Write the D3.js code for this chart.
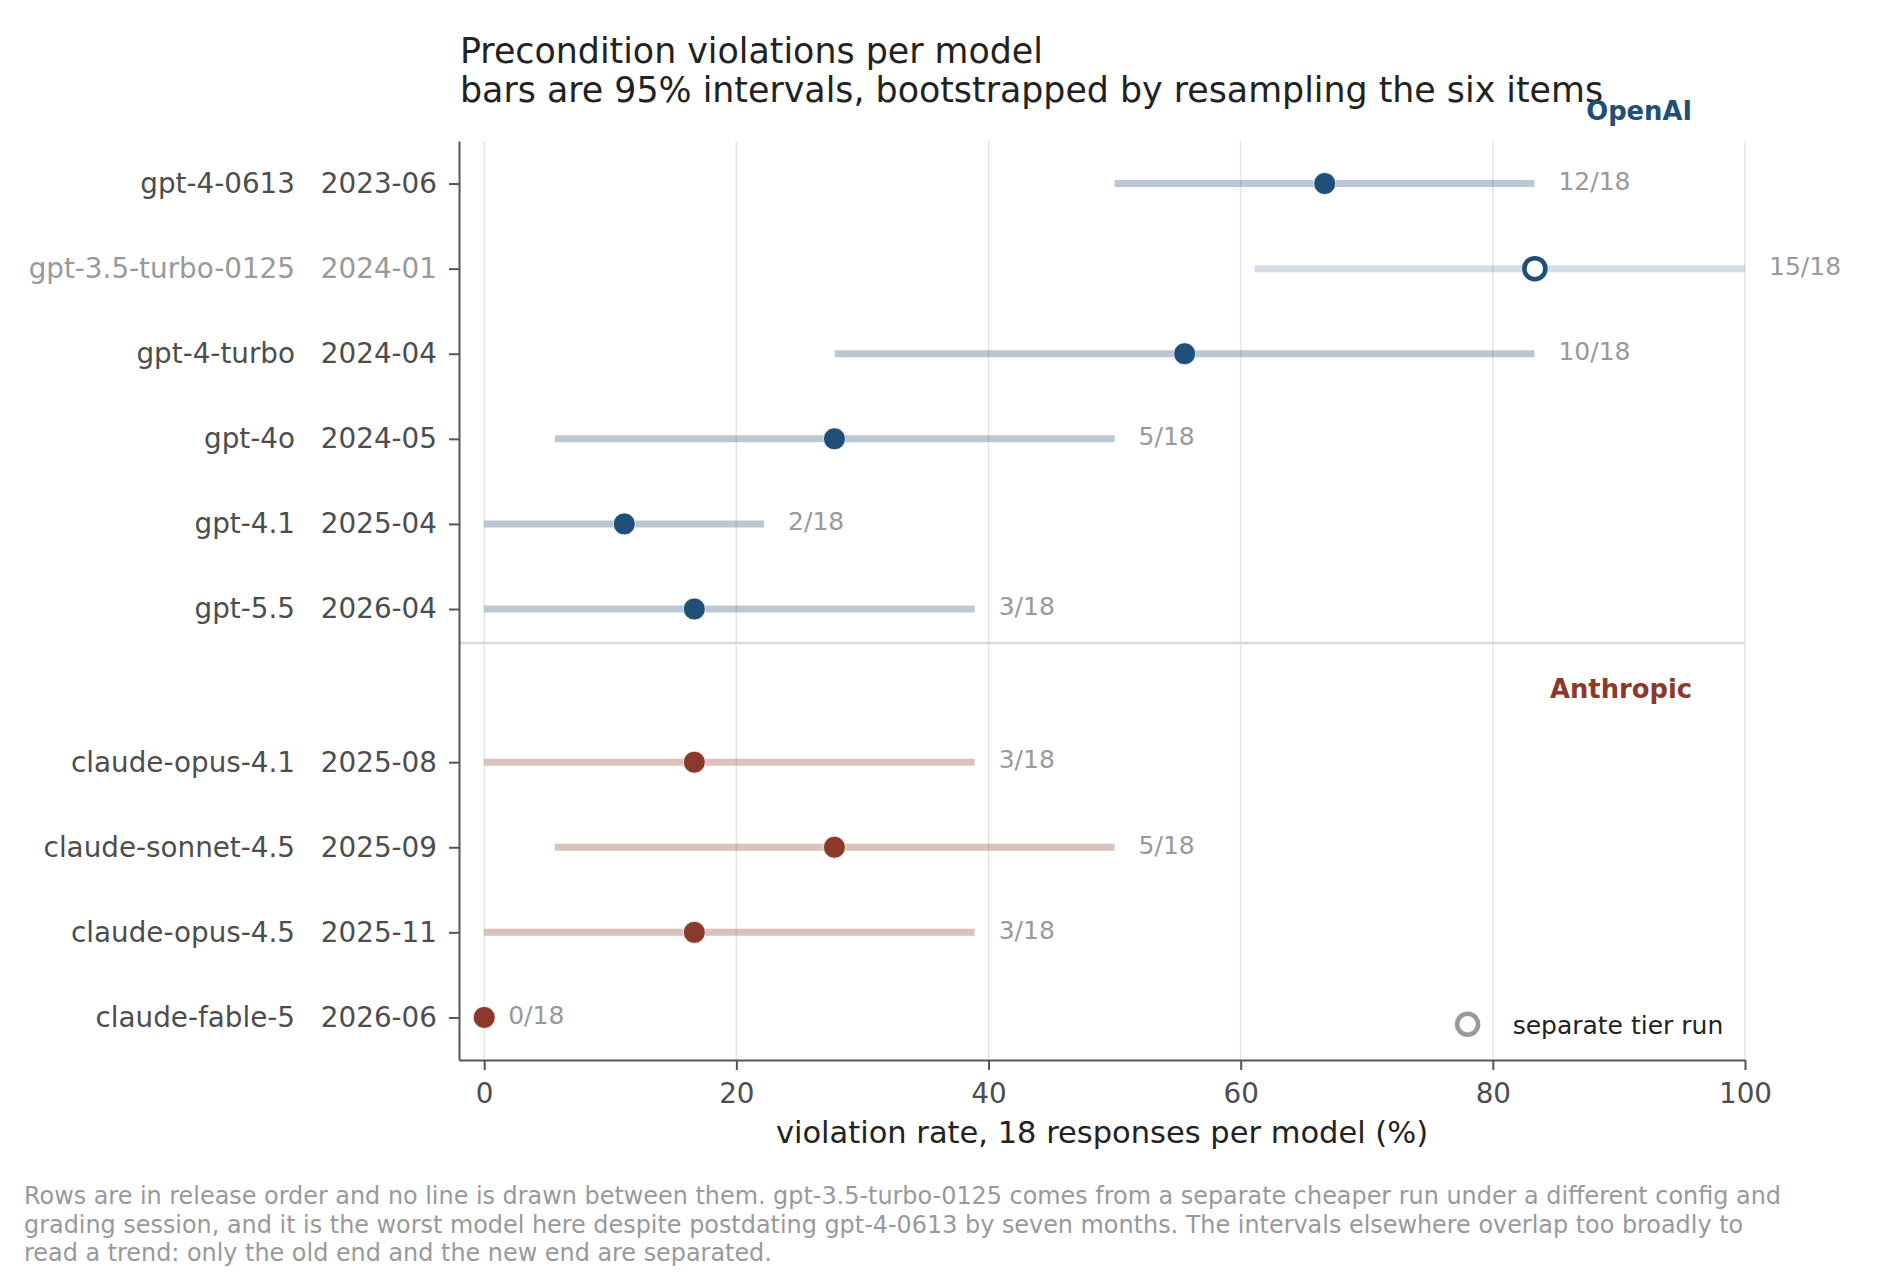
<!DOCTYPE html>
<html>
<head>
<meta charset="utf-8">
<script src="https://cdn.jsdelivr.net/npm/d3@7"></script>
<style>
    body { margin: 0; background: #fff; }
    svg text { font-family: "DejaVu Sans", sans-serif; }
</style>
</head>
<body>
<svg id="drawing_region"></svg>
<script>
// rows, top to bottom in release order within each lab
const models = ["gpt-4-0613", "gpt-3.5-turbo-0125", "gpt-4-turbo", "gpt-4o", "gpt-4.1", "gpt-5.5",
                "claude-opus-4.1", "claude-sonnet-4.5", "claude-opus-4.5", "claude-fable-5"];
const releases = ["2023-06", "2024-01", "2024-04", "2024-05", "2025-04", "2026-04",
                  "2025-08", "2025-09", "2025-11", "2026-06"];
const labs = ["OpenAI", "OpenAI", "OpenAI", "OpenAI", "OpenAI", "OpenAI",
              "Anthropic", "Anthropic", "Anthropic", "Anthropic"];
const violations = [12, 15, 10, 5, 2, 3, 3, 5, 3, 0];
const responses = 18;
const ciLow  = [50.0, 61.1, 27.8, 5.6, 0.0, 0.0, 0.0, 5.6, 0.0, 0.0];
const ciHigh = [83.3, 100.0, 83.3, 50.0, 22.2, 38.9, 38.9, 50.0, 38.9, 0.0];
const separateRun = [false, true, false, false, false, false, false, false, false, false];
const rowPos = [0, 1, 2, 3, 4, 5, 6.8, 7.8, 8.8, 9.8];
const xTicks = [0, 20, 40, 60, 80, 100];

const labColor = { "OpenAI": "#1f4e79", "Anthropic": "#8b392a" };
const labFirstRow = { "OpenAI": 0, "Anthropic": 6.8 };
const separatorPos = 5.4;

const titleLines = ["Precondition violations per model",
                    "bars are 95% intervals, bootstrapped by resampling the six items"];
const xLabel = "violation rate, 18 responses per model (%)";
const noteLines = [
    "Rows are in release order and no line is drawn between them. gpt-3.5-turbo-0125 comes from a separate cheaper run under a different config and",
    "grading session, and it is the worst model here despite postdating gpt-4-0613 by seven months. The intervals elsewhere overlap too broadly to",
    "read a trend: only the old end and the new end are separated."
];

const data = models.map((m, i) => ({
    model: m,
    release: releases[i],
    lab: labs[i],
    rate: violations[i] / responses * 100,
    count: violations[i],
    lo: ciLow[i],
    hi: ciHigh[i],
    separate: separateRun[i],
    pos: rowPos[i]
}));

class IntervalChart {

    constructor( config, data ) {
        this.config = config;
        this.data = data;
        this.init();
    }

    init() {
        let self = this;

        self.svg = d3.select( self.config.parent )
            .attr('width', self.config.width)
            .attr('height', self.config.height);

        self.left = self.config.margin.left;
        self.right = self.config.width - self.config.margin.right;
        self.top = self.config.margin.top;
        self.bottom = self.config.height - self.config.margin.bottom;

        self.xscale = d3.scaleLinear()
            .domain( [-2, 100] )
            .range( [self.left, self.right] );

        self.yscale = d3.scaleLinear()
            .domain( [-0.5, 10.3] )
            .range( [self.top, self.bottom] );
    }

    render() {
        let self = this;
        const x = self.xscale, y = self.yscale;

        // title
        self.svg.append('g').selectAll('text').data(titleLines).join('text')
            .attr('x', self.left + 1)
            .attr('y', (d, i) => 63 + i * 39)
            .attr('font-size', '34.8px')
            .attr('fill', '#222')
            .text(d => d);

        // vertical grid
        self.svg.append('g').selectAll('line').data(xTicks).join('line')
            .attr('x1', d => x(d)).attr('x2', d => x(d))
            .attr('y1', self.top).attr('y2', self.bottom)
            .attr('stroke', '#e6e6e6')
            .attr('stroke-width', 1.6);

        // separator between labs
        self.svg.append('line')
            .attr('x1', self.left).attr('x2', self.right)
            .attr('y1', y(separatorPos)).attr('y2', y(separatorPos))
            .attr('stroke', '#dadada')
            .attr('stroke-width', 2.5);

        // axes
        const xaxis = d3.axisBottom(x)
            .tickValues(xTicks)
            .tickSize(10)
            .tickSizeOuter(0)
            .tickPadding(13);
        const xg = self.svg.append('g')
            .attr('transform', `translate(0, ${self.bottom})`)
            .call(xaxis);
        xg.selectAll('text').attr('font-size', '27.8px').attr('fill', '#4d4d4d');

        const yaxis = d3.axisLeft(y)
            .tickValues(rowPos)
            .tickFormat((d, i) => releases[i])
            .tickSize(10)
            .tickSizeOuter(0)
            .tickPadding(12);
        const yg = self.svg.append('g')
            .attr('transform', `translate(${self.left}, 0)`)
            .call(yaxis);
        yg.selectAll('.tick text')
            .attr('font-size', '27.8px')
            .attr('fill', (d, i) => separateRun[i] ? '#999' : '#4d4d4d');
        yg.selectAll('.tick').append('text')
            .attr('x', -164)
            .attr('dy', '0.32em')
            .attr('text-anchor', 'end')
            .attr('font-size', '27.8px')
            .attr('fill', (d, i) => separateRun[i] ? '#999' : '#4d4d4d')
            .text((d, i) => models[i]);

        [xg, yg].forEach(g => {
            g.select('.domain').attr('stroke', '#555').attr('stroke-width', 2);
            g.selectAll('.tick line').attr('stroke', '#555').attr('stroke-width', 2);
            g.attr('font-family', null);
        });

        // lab labels
        self.svg.append('g').selectAll('text').data(Object.keys(labColor)).join('text')
            .attr('x', x(95.8))
            .attr('y', d => y(labFirstRow[d] - 0.75))
            .attr('text-anchor', 'end')
            .attr('font-size', '25.8px')
            .attr('font-weight', 'bold')
            .attr('fill', d => labColor[d])
            .text(d => d);

        // interval bars
        self.svg.append('g').selectAll('line').data(self.data.filter(d => d.hi > d.lo)).join('line')
            .attr('x1', d => x(d.lo)).attr('x2', d => x(d.hi))
            .attr('y1', d => y(d.pos)).attr('y2', d => y(d.pos))
            .attr('stroke', d => labColor[d.lab])
            .attr('stroke-opacity', d => d.separate ? 0.19 : 0.31)
            .attr('stroke-width', 7);

        // point estimates
        self.svg.append('g').selectAll('circle').data(self.data).join('circle')
            .attr('cx', d => x(d.rate))
            .attr('cy', d => y(d.pos))
            .attr('r', d => d.separate ? 10.5 : 11)
            .attr('fill', d => d.separate ? '#fff' : labColor[d.lab])
            .attr('stroke', d => d.separate ? labColor[d.lab] : '#fff')
            .attr('stroke-width', d => d.separate ? 4.5 : 0.8);

        // counts
        self.svg.append('g').selectAll('text').data(self.data).join('text')
            .attr('x', d => x(d.hi) + 24)
            .attr('y', d => y(d.pos))
            .attr('dy', '0.25em')
            .attr('font-size', '25px')
            .attr('fill', '#999')
            .text(d => `${d.count}/${responses}`);

        // legend
        const legend = self.svg.append('g')
            .attr('transform', `translate(${x(78)}, ${y(9.88)})`);
        legend.append('circle')
            .attr('r', 10.5)
            .attr('fill', '#fff')
            .attr('stroke', '#999')
            .attr('stroke-width', 4.5);
        legend.append('text')
            .attr('x', 45)
            .attr('y', 10)
            .attr('font-size', '25px')
            .attr('fill', '#222')
            .text('separate tier run');

        // x label
        self.svg.append('text')
            .attr('x', (self.left + self.right) / 2)
            .attr('y', 1143)
            .attr('text-anchor', 'middle')
            .attr('font-size', '30.5px')
            .attr('fill', '#222')
            .text(xLabel);

        // footnote
        self.svg.append('g').selectAll('text').data(noteLines).join('text')
            .attr('x', 24)
            .attr('y', (d, i) => 1204 + i * 28.5)
            .attr('font-size', '23.9px')
            .attr('fill', '#999')
            .text(d => d);
    }
}

const chart = new IntervalChart({
    parent: '#drawing_region',
    width: 1880,
    height: 1280,
    margin: {top: 141, right: 135, bottom: 220, left: 459}
}, data);
chart.render();
</script>
</body>
</html>
